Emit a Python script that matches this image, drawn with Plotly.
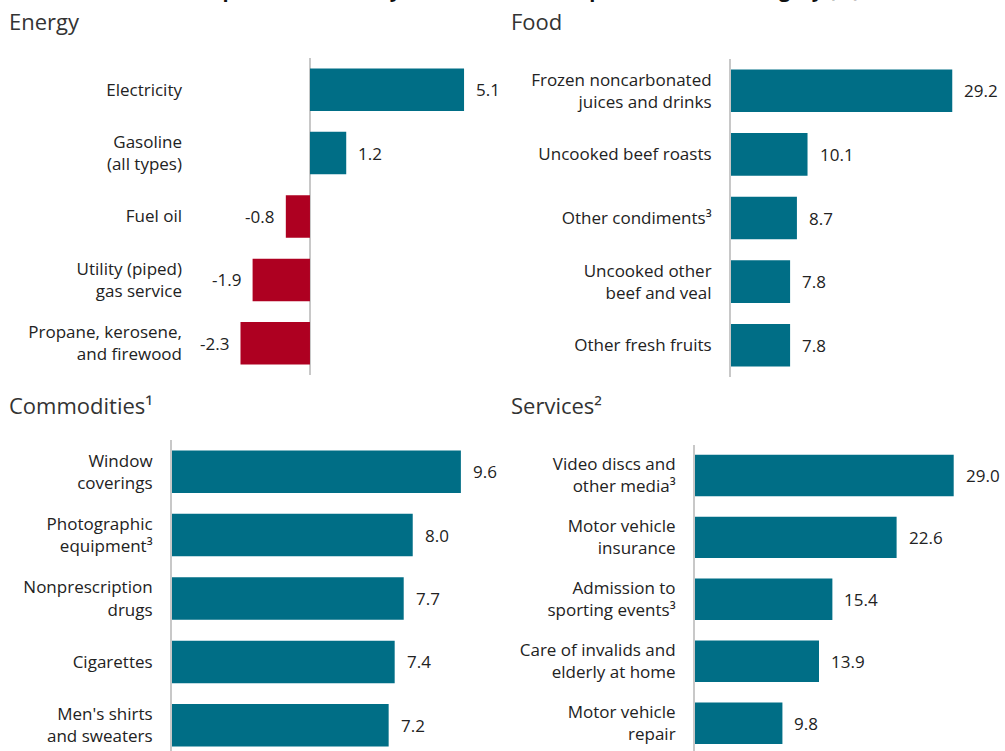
import plotly.graph_objects as go

W, H = 1005, 751

title_text = "Annual price increases by consumer item, top five for each category (%)"

energy_cats = ["Electricity", "Gasoline<br>(all types)", "Fuel oil",
               "Utility (piped)<br>gas service", "Propane, kerosene,<br>and firewood"]
energy_vals = [5.1, 1.2, -0.8, -1.9, -2.3]

food_cats = ["Frozen noncarbonated<br>juices and drinks", "Uncooked beef roasts",
             "Other condiments³", "Uncooked other<br>beef and veal", "Other fresh fruits"]
food_vals = [29.2, 10.1, 8.7, 7.8, 7.8]

comm_cats = ["Window<br>coverings", "Photographic<br>equipment³", "Nonprescription<br>drugs",
             "Cigarettes", "Men's shirts<br>and sweaters"]
comm_vals = [9.6, 8.0, 7.7, 7.4, 7.2]

serv_cats = ["Video discs and<br>other media³", "Motor vehicle<br>insurance",
             "Admission to<br>sporting events³", "Care of invalids and<br>elderly at home",
             "Motor vehicle<br>repair"]
serv_vals = [29.0, 22.6, 15.4, 13.9, 9.8]

panel_titles = ["Energy", "Food", "Commodities¹", "Services²"]

TEAL = "#006e86"
RED = "#ae0021"
FONT = "Open Sans"
TXT = "#222222"

def px_x(p):
    return p / W

def px_y(p):
    return 1 - p / H

panels = [
    dict(cats=energy_cats, vals=energy_vals, xd=(197, 500), yd=(58, 375),
         xr=[-3.74, 6.29], yr=[4.5, -0.5], title_pos=(7, 21)),
    dict(cats=food_cats, vals=food_vals, xd=(731, 1000), yd=(59, 377),
         xr=[0, 35.5], yr=[4.5, -0.5], title_pos=(509, 21)),
    dict(cats=comm_cats, vals=comm_vals, xd=(172, 500), yd=(440, 751),
         xr=[0, 10.9], yr=[4.405, -0.5], title_pos=(7, 405)),
    dict(cats=serv_cats, vals=serv_vals, xd=(695, 1000), yd=(444.5, 751),
         xr=[0, 34.19], yr=[4.45, -0.5], title_pos=(509, 405)),
]

fig = go.Figure()
annotations = []
layout = {}
for i, p in enumerate(panels):
    n = "" if i == 0 else str(i + 1)
    xa, ya = "x" + n, "y" + n
    colors = [TEAL if v >= 0 else RED for v in p["vals"]]
    fig.add_trace(go.Bar(
        x=p["vals"], y=p["cats"], orientation="h", xaxis=xa, yaxis=ya,
        marker=dict(color=colors, line=dict(width=0)), showlegend=False,
        hoverinfo="x+y"))
    layout["xaxis" + n] = dict(
        domain=[px_x(p["xd"][0]), px_x(p["xd"][1])], range=p["xr"], anchor=ya,
        showgrid=False, showticklabels=False, ticks="", fixedrange=True,
        zeroline=(i == 0), zerolinecolor="#c8c8c8", zerolinewidth=2)
    layout["yaxis" + n] = dict(
        domain=[px_y(p["yd"][1]), px_y(p["yd"][0])], range=p["yr"], anchor=xa,
        type="category", showgrid=False, ticks="", ticklabelstandoff=14,
        tickfont=dict(family=FONT, size=17, color=TXT),
        showline=(i != 0), linecolor="#c8c8c8", linewidth=2, fixedrange=True)
    for c, v in zip(p["cats"], p["vals"]):
        annotations.append(dict(
            x=v, y=c, xref=xa, yref=ya, text=f"{v:.1f}", showarrow=False,
            xanchor="left" if v >= 0 else "right", xshift=10 if v >= 0 else -10,
            font=dict(family=FONT, size=17, color=TXT)))
    annotations.append(dict(
        x=px_x(p["title_pos"][0]), y=px_y(p["title_pos"][1]), xref="paper", yref="paper",
        text=panel_titles[i], showarrow=False, xanchor="left", yanchor="middle",
        font=dict(family=FONT, size=22, color="#333333")))

annotations.append(dict(
    x=0.5, y=px_y(5), xref="paper", yref="paper", text="<b>" + title_text + "</b>",
    showarrow=False, xanchor="center", yanchor="bottom",
    font=dict(family=FONT, size=20, color="#111111")))

fig.update_layout(
    width=W, height=H, margin=dict(l=0, r=0, t=0, b=0),
    paper_bgcolor="white", plot_bgcolor="white", bargap=0.33,
    annotations=annotations, **layout)

fig.write_html("out.html", config={"displayModeBar": False},
               post_script="document.body.style.margin='0';")
